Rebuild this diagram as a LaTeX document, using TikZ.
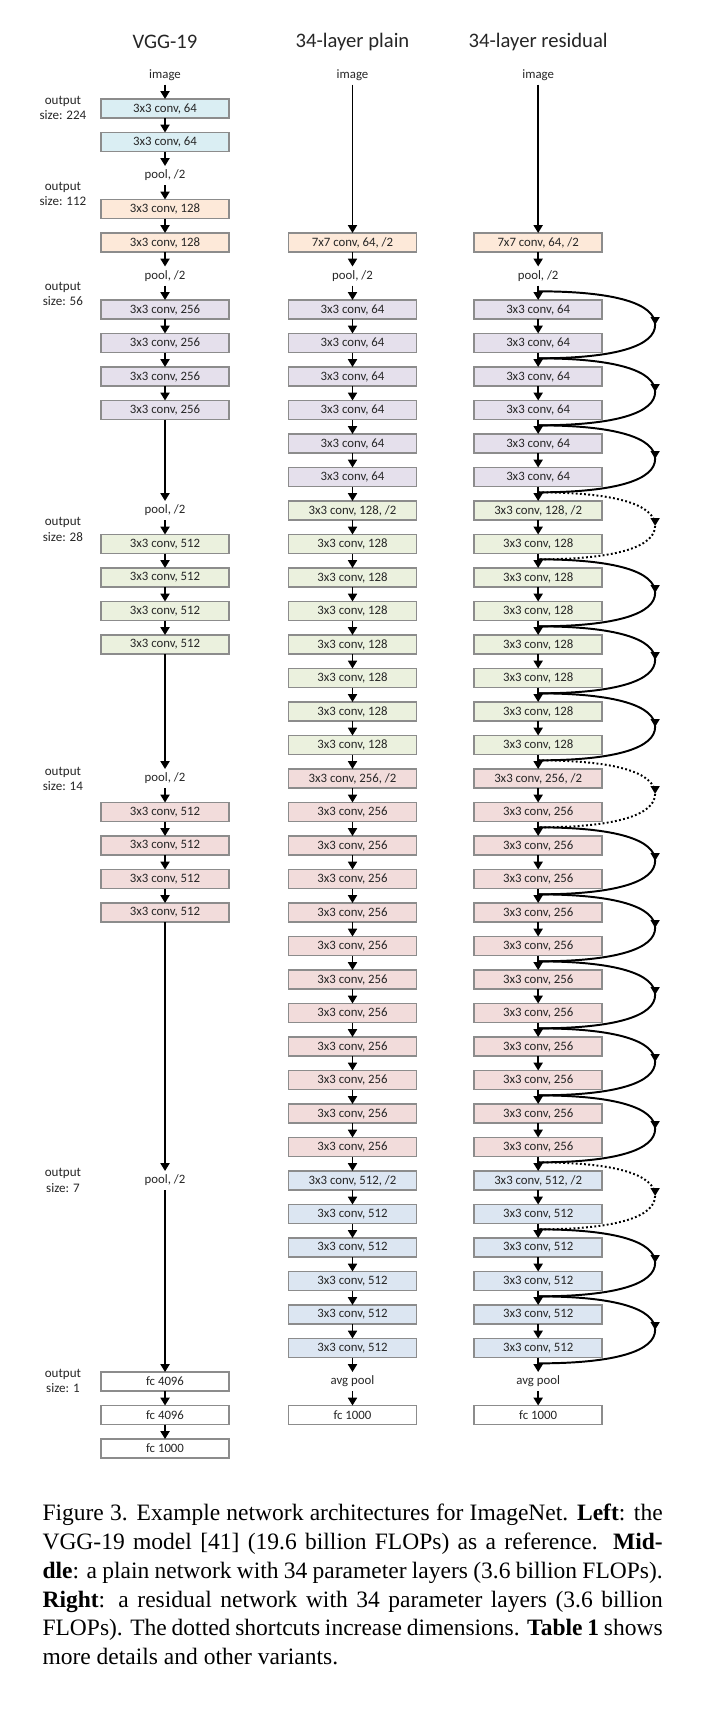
\documentclass[tikz,border=0pt]{standalone}
\usepackage{fontspec}
\setmainfont{Liberation Serif}
\newfontfamily\calibri{Carlito}
\usepackage{tikz}
\usetikzlibrary{positioning,arrows.meta,calc,decorations.markings}
\definecolor{cyanfill}{HTML}{DAEEF3}
\definecolor{peachfill}{HTML}{FDE9D9}
\definecolor{lilacfill}{HTML}{E5E0EC}
\definecolor{limefill}{HTML}{EBF1DE}
\definecolor{rosefill}{HTML}{F2DCDB}
\definecolor{icefill}{HTML}{DCE6F2}
\definecolor{boxgray}{HTML}{8C8C8C}
\definecolor{inkgray}{HTML}{262626}
\newcommand{\resskip}[3][]{%
    \draw[skipline,#1] (#2) .. controls +(30pt,0) and +(0,8pt) .. ($(#2)!0.5!(#3)+(44.8pt,0)$)
        .. controls +(0,-8pt) and +(30pt,0) .. (#3);}
\tikzset{
    every edge/.style={draw,-{Triangle[length=3pt,width=3.4pt]},line width=0.75pt},
    convbox/.style={draw=boxgray,line width=0.65pt,minimum width=49pt,minimum height=7.28pt,inner sep=0pt,
        outer sep=0pt,text=inkgray,font=\calibri\fontsize{4.9}{5.5}\selectfont},
    lbl/.style={minimum height=7.28pt,inner sep=0pt,outer sep=0pt,text=inkgray,
        font=\calibri\fontsize{4.9}{5.5}\selectfont},
    cyanbox/.style={convbox,fill=cyanfill},
    peachbox/.style={convbox,fill=peachfill},
    lilacbox/.style={convbox,fill=lilacfill},
    limebox/.style={convbox,fill=limefill},
    rosebox/.style={convbox,fill=rosefill},
    icebox/.style={convbox,fill=icefill},
    fcbox/.style={convbox,fill=white},
    title/.style={text=inkgray,font=\calibri\fontsize{7.9}{9}\selectfont},
    sizenote/.style={align=center,inner sep=0pt,text=inkgray,font=\calibri\fontsize{5}{5.9}\selectfont},
    skipline/.style={line width=0.75pt,postaction={decorate},
        decoration={markings,mark=at position 0.5 with {\arrow{Triangle[length=3pt,width=3.4pt]}}}},
    widen/.style={dash pattern=on 0.7pt off 0.9pt},
}

\begin{document}
\begin{tikzpicture}[node distance=5.55pt]
    \useasboundingbox (0,0) rectangle (270pt,-659.1pt);

    % column heads
    \node[title] (tv) at (63.2pt,-16.1pt) {VGG-19};
    \node[title] (tp) at (135pt,-16.1pt) {34-layer plain};
    \node[title] (tr) at (206.1pt,-16.1pt) {34-layer residual};

    % output sizes
    \node[sizenote] (s224) at (24.1pt,-41.4pt) {output\\size: 224};
    \node[sizenote] (s112) at (24.1pt,-74.3pt) {output\\size: 112};
    \node[sizenote] (s56) at (24.1pt,-112.6pt) {output\\size: 56};
    \node[sizenote] (s28) at (24.1pt,-202.8pt) {output\\size: 28};
    \node[sizenote] (s14) at (24.1pt,-298.4pt) {output\\size: 14};
    \node[sizenote] (s7) at (24.1pt,-452.1pt) {output\\size: 7};
    \node[sizenote] (s1) at (24.1pt,-528.9pt) {output\\size: 1};

    % VGG-19
    \node[lbl] (v0) at (63.2pt,-28.73pt) {image};
    \node[cyanbox,below=of v0] (v1) {3x3 conv, 64};
    \node[cyanbox,below=of v1] (v2) {3x3 conv, 64};
    \node[lbl,below=of v2] (v3) {pool, /2};
    \node[peachbox,below=of v3] (v4) {3x3 conv, 128};
    \node[peachbox,below=of v4] (v5) {3x3 conv, 128};
    \node[lbl,below=of v5] (v6) {pool, /2};
    \node[lilacbox,below=of v6] (v7) {3x3 conv, 256};
    \node[lilacbox,below=of v7] (v8) {3x3 conv, 256};
    \node[lilacbox,below=of v8] (v9) {3x3 conv, 256};
    \node[lilacbox,below=of v9] (v10) {3x3 conv, 256};
    \node[lbl,below=31.21pt of v10] (v13) {pool, /2};
    \node[limebox,below=of v13] (v14) {3x3 conv, 512};
    \node[limebox,below=of v14] (v15) {3x3 conv, 512};
    \node[limebox,below=of v15] (v16) {3x3 conv, 512};
    \node[limebox,below=of v16] (v17) {3x3 conv, 512};
    \node[lbl,below=44.04pt of v17] (v21) {pool, /2};
    \node[rosebox,below=of v21] (v22) {3x3 conv, 512};
    \node[rosebox,below=of v22] (v23) {3x3 conv, 512};
    \node[rosebox,below=of v23] (v24) {3x3 conv, 512};
    \node[rosebox,below=of v24] (v25) {3x3 conv, 512};
    \node[lbl,below=95.36pt of v25] (v33) {pool, /2};
    \node[fcbox,below=69.7pt of v33] (v39) {fc 4096};
    \node[fcbox,below=of v39] (v40) {fc 4096};
    \node[fcbox,below=of v40] (v41) {fc 1000};

    % 34-layer plain
    \node[lbl] (p0) at (135pt,-28.73pt) {image};
    \node[peachbox,below=56.87pt of p0] (p5) {7x7 conv, 64, /2};
    \node[lbl,below=of p5] (p6) {pool, /2};
    \node[lilacbox,below=of p6] (p7) {3x3 conv, 64};
    \node[lilacbox,below=of p7] (p8) {3x3 conv, 64};
    \node[lilacbox,below=of p8] (p9) {3x3 conv, 64};
    \node[lilacbox,below=of p9] (p10) {3x3 conv, 64};
    \node[lilacbox,below=of p10] (p11) {3x3 conv, 64};
    \node[lilacbox,below=of p11] (p12) {3x3 conv, 64};
    \node[limebox,below=of p12] (p13) {3x3 conv, 128, /2};
    \node[limebox,below=of p13] (p14) {3x3 conv, 128};
    \node[limebox,below=of p14] (p15) {3x3 conv, 128};
    \node[limebox,below=of p15] (p16) {3x3 conv, 128};
    \node[limebox,below=of p16] (p17) {3x3 conv, 128};
    \node[limebox,below=of p17] (p18) {3x3 conv, 128};
    \node[limebox,below=of p18] (p19) {3x3 conv, 128};
    \node[limebox,below=of p19] (p20) {3x3 conv, 128};
    \node[rosebox,below=of p20] (p21) {3x3 conv, 256, /2};
    \node[rosebox,below=of p21] (p22) {3x3 conv, 256};
    \node[rosebox,below=of p22] (p23) {3x3 conv, 256};
    \node[rosebox,below=of p23] (p24) {3x3 conv, 256};
    \node[rosebox,below=of p24] (p25) {3x3 conv, 256};
    \node[rosebox,below=of p25] (p26) {3x3 conv, 256};
    \node[rosebox,below=of p26] (p27) {3x3 conv, 256};
    \node[rosebox,below=of p27] (p28) {3x3 conv, 256};
    \node[rosebox,below=of p28] (p29) {3x3 conv, 256};
    \node[rosebox,below=of p29] (p30) {3x3 conv, 256};
    \node[rosebox,below=of p30] (p31) {3x3 conv, 256};
    \node[rosebox,below=of p31] (p32) {3x3 conv, 256};
    \node[icebox,below=of p32] (p33) {3x3 conv, 512, /2};
    \node[icebox,below=of p33] (p34) {3x3 conv, 512};
    \node[icebox,below=of p34] (p35) {3x3 conv, 512};
    \node[icebox,below=of p35] (p36) {3x3 conv, 512};
    \node[icebox,below=of p36] (p37) {3x3 conv, 512};
    \node[icebox,below=of p37] (p38) {3x3 conv, 512};
    \node[lbl,below=of p38] (p39) {avg pool};
    \node[fcbox,below=of p39] (p40) {fc 1000};

    % 34-layer residual
    \node[lbl] (r0) at (206.1pt,-28.73pt) {image};
    \node[peachbox,below=56.87pt of r0] (r5) {7x7 conv, 64, /2};
    \node[lbl,below=of r5] (r6) {pool, /2};
    \node[lilacbox,below=of r6] (r7) {3x3 conv, 64};
    \node[lilacbox,below=of r7] (r8) {3x3 conv, 64};
    \node[lilacbox,below=of r8] (r9) {3x3 conv, 64};
    \node[lilacbox,below=of r9] (r10) {3x3 conv, 64};
    \node[lilacbox,below=of r10] (r11) {3x3 conv, 64};
    \node[lilacbox,below=of r11] (r12) {3x3 conv, 64};
    \node[limebox,below=of r12] (r13) {3x3 conv, 128, /2};
    \node[limebox,below=of r13] (r14) {3x3 conv, 128};
    \node[limebox,below=of r14] (r15) {3x3 conv, 128};
    \node[limebox,below=of r15] (r16) {3x3 conv, 128};
    \node[limebox,below=of r16] (r17) {3x3 conv, 128};
    \node[limebox,below=of r17] (r18) {3x3 conv, 128};
    \node[limebox,below=of r18] (r19) {3x3 conv, 128};
    \node[limebox,below=of r19] (r20) {3x3 conv, 128};
    \node[rosebox,below=of r20] (r21) {3x3 conv, 256, /2};
    \node[rosebox,below=of r21] (r22) {3x3 conv, 256};
    \node[rosebox,below=of r22] (r23) {3x3 conv, 256};
    \node[rosebox,below=of r23] (r24) {3x3 conv, 256};
    \node[rosebox,below=of r24] (r25) {3x3 conv, 256};
    \node[rosebox,below=of r25] (r26) {3x3 conv, 256};
    \node[rosebox,below=of r26] (r27) {3x3 conv, 256};
    \node[rosebox,below=of r27] (r28) {3x3 conv, 256};
    \node[rosebox,below=of r28] (r29) {3x3 conv, 256};
    \node[rosebox,below=of r29] (r30) {3x3 conv, 256};
    \node[rosebox,below=of r30] (r31) {3x3 conv, 256};
    \node[rosebox,below=of r31] (r32) {3x3 conv, 256};
    \node[icebox,below=of r32] (r33) {3x3 conv, 512, /2};
    \node[icebox,below=of r33] (r34) {3x3 conv, 512};
    \node[icebox,below=of r34] (r35) {3x3 conv, 512};
    \node[icebox,below=of r35] (r36) {3x3 conv, 512};
    \node[icebox,below=of r36] (r37) {3x3 conv, 512};
    \node[icebox,below=of r37] (r38) {3x3 conv, 512};
    \node[lbl,below=of r38] (r39) {avg pool};
    \node[fcbox,below=of r39] (r40) {fc 1000};

    \path
    (v0) edge (v1) (v1) edge (v2) (v2) edge (v3) (v3) edge (v4)
    (v4) edge (v5) (v5) edge (v6) (v6) edge (v7) (v7) edge (v8)
    (v8) edge (v9) (v9) edge (v10) (v10) edge (v13) (v13) edge (v14)
    (v14) edge (v15) (v15) edge (v16) (v16) edge (v17) (v17) edge (v21)
    (v21) edge (v22) (v22) edge (v23) (v23) edge (v24) (v24) edge (v25)
    (v25) edge (v33) (v33) edge (v39) (v39) edge (v40) (v40) edge (v41);

    \path
    (p0) edge (p5) (p5) edge (p6) (p6) edge (p7) (p7) edge (p8)
    (p8) edge (p9) (p9) edge (p10) (p10) edge (p11) (p11) edge (p12)
    (p12) edge (p13) (p13) edge (p14) (p14) edge (p15) (p15) edge (p16)
    (p16) edge (p17) (p17) edge (p18) (p18) edge (p19) (p19) edge (p20)
    (p20) edge (p21) (p21) edge (p22) (p22) edge (p23) (p23) edge (p24)
    (p24) edge (p25) (p25) edge (p26) (p26) edge (p27) (p27) edge (p28)
    (p28) edge (p29) (p29) edge (p30) (p30) edge (p31) (p31) edge (p32)
    (p32) edge (p33) (p33) edge (p34) (p34) edge (p35) (p35) edge (p36)
    (p36) edge (p37) (p37) edge (p38) (p38) edge (p39) (p39) edge (p40);

    \path
    (r0) edge (r5) (r5) edge (r6) (r6) edge (r7) (r7) edge (r8)
    (r8) edge (r9) (r9) edge (r10) (r10) edge (r11) (r11) edge (r12)
    (r12) edge (r13) (r13) edge (r14) (r14) edge (r15) (r15) edge (r16)
    (r16) edge (r17) (r17) edge (r18) (r18) edge (r19) (r19) edge (r20)
    (r20) edge (r21) (r21) edge (r22) (r22) edge (r23) (r23) edge (r24)
    (r24) edge (r25) (r25) edge (r26) (r26) edge (r27) (r27) edge (r28)
    (r28) edge (r29) (r29) edge (r30) (r30) edge (r31) (r31) edge (r32)
    (r32) edge (r33) (r33) edge (r34) (r34) edge (r35) (r35) edge (r36)
    (r36) edge (r37) (r37) edge (r38) (r38) edge (r39) (r39) edge (r40);

    % shortcut junctions
    \coordinate (j7) at ($(r6.south)!0.4!(r7.north)$);
    \coordinate (j9) at ($(r8.south)!0.4!(r9.north)$);
    \coordinate (j11) at ($(r10.south)!0.4!(r11.north)$);
    \coordinate (j13) at ($(r12.south)!0.4!(r13.north)$);
    \coordinate (j15) at ($(r14.south)!0.4!(r15.north)$);
    \coordinate (j17) at ($(r16.south)!0.4!(r17.north)$);
    \coordinate (j19) at ($(r18.south)!0.4!(r19.north)$);
    \coordinate (j21) at ($(r20.south)!0.4!(r21.north)$);
    \coordinate (j23) at ($(r22.south)!0.4!(r23.north)$);
    \coordinate (j25) at ($(r24.south)!0.4!(r25.north)$);
    \coordinate (j27) at ($(r26.south)!0.4!(r27.north)$);
    \coordinate (j29) at ($(r28.south)!0.4!(r29.north)$);
    \coordinate (j31) at ($(r30.south)!0.4!(r31.north)$);
    \coordinate (j33) at ($(r32.south)!0.4!(r33.north)$);
    \coordinate (j35) at ($(r34.south)!0.4!(r35.north)$);
    \coordinate (j37) at ($(r36.south)!0.4!(r37.north)$);
    \coordinate (j39) at ($(r38.south)!0.4!(r39.north)$);

    \resskip{j7}{j9}
    \resskip{j9}{j11}
    \resskip{j11}{j13}
    \resskip[widen]{j13}{j15}
    \resskip{j15}{j17}
    \resskip{j17}{j19}
    \resskip{j19}{j21}
    \resskip[widen]{j21}{j23}
    \resskip{j23}{j25}
    \resskip{j25}{j27}
    \resskip{j27}{j29}
    \resskip{j29}{j31}
    \resskip{j31}{j33}
    \resskip[widen]{j33}{j35}
    \resskip{j35}{j37}
    \resskip{j37}{j39}

    % caption
    \node[anchor=north west,inner sep=0pt,text width=237.5pt,align=justify,
        font=\fontsize{9}{11}\selectfont] (cap) at (16.1pt,-575.9pt)
        {\tolerance=10000 \hyphenpenalty=10000
        Figure 3. Example network architectures for ImageNet. \textbf{Left}: the\linebreak
        VGG-19 model [41] (19.6 billion FLOPs) as a reference. \textbf{Mid-}\linebreak
        \textbf{dle}: a plain network with 34 parameter layers (3.6 billion FLOPs).\linebreak
        \textbf{Right}: a residual network with 34 parameter layers (3.6 billion\linebreak
        FLOPs). The dotted shortcuts increase dimensions. \textbf{Table 1} shows\linebreak
        more details and other variants.};
\end{tikzpicture}
\end{document}
